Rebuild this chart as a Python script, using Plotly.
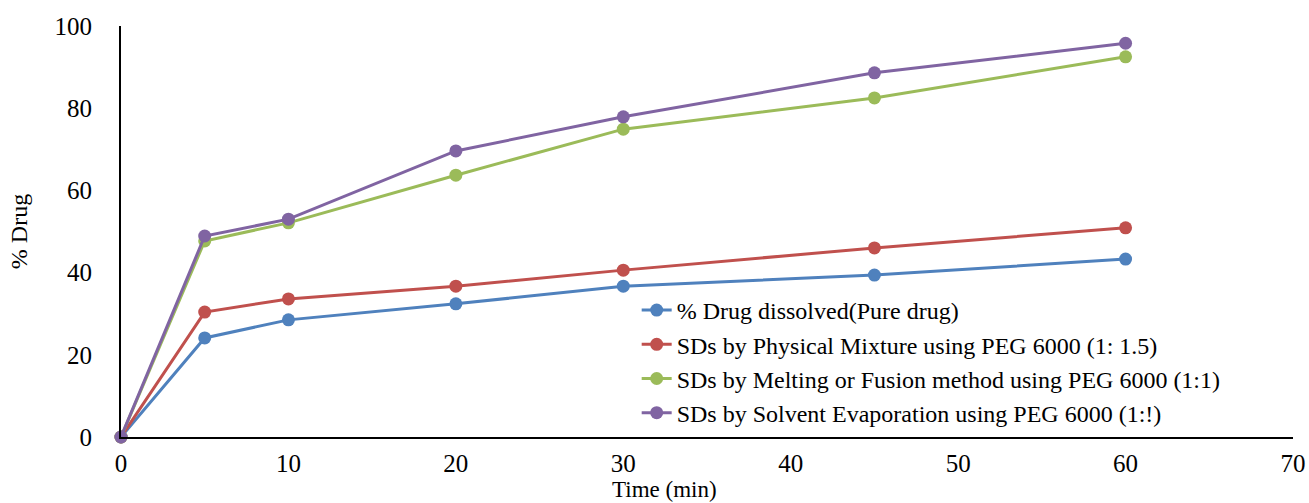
import plotly.graph_objects as go

time_min = [0, 5, 10, 20, 30, 45, 60]
pure_drug = [0, 24.1, 28.5, 32.4, 36.7, 39.4, 43.3]
physical_mixture = [0, 30.4, 33.6, 36.7, 40.6, 46.0, 50.9]
melting_fusion = [0, 47.7, 52.1, 63.7, 74.9, 82.5, 92.5]
solvent_evap = [0, 48.9, 53.0, 69.6, 77.9, 88.6, 95.8]

series = [
    ("% Drug dissolved(Pure drug)", pure_drug, "#4F81BD"),
    ("SDs by Physical Mixture using PEG 6000 (1: 1.5)", physical_mixture, "#C0504D"),
    ("SDs by Melting or Fusion method using PEG 6000 (1:1)", melting_fusion, "#9BBB59"),
    ("SDs by Solvent Evaporation using PEG 6000 (1:!)", solvent_evap, "#8064A2"),
]

fig = go.Figure()
for name, vals, col in series:
    fig.add_trace(go.Scatter(
        x=time_min, y=vals, name=name, mode="lines+markers",
        line=dict(color=col, width=3),
        marker=dict(color=col, size=13),
        cliponaxis=False,
    ))

font = "Liberation Serif"
fig.update_layout(
    width=1309, height=503,
    margin=dict(l=121, r=16, t=26, b=66, autoexpand=False),
    paper_bgcolor="white", plot_bgcolor="white",
    font=dict(family=font, size=25, color="black"),
    showlegend=True,
    legend=dict(x=0.44, y=0.3625, xanchor="left", yanchor="top",
                font=dict(family=font, size=24, color="black"),
                bgcolor="rgba(0,0,0,0)", tracegroupgap=0, itemwidth=30),
    xaxis=dict(range=[0, 70], dtick=10, showgrid=False, zeroline=False,
               showline=True, linecolor="black", linewidth=2,
               ticks="", tickfont=dict(family=font, size=25), ticklabelstandoff=3),
    yaxis=dict(range=[0, 100], dtick=20, showgrid=False, zeroline=False,
               showline=True, linecolor="black", linewidth=2,
               ticks="", tickfont=dict(family=font, size=25), ticklabelstandoff=22,
               title=dict(text="% Drug", font=dict(family=font, size=24), standoff=20)),
    annotations=[dict(text="Time (min)", xref="paper", yref="paper",
                      x=(665 - 121) / 1174, y=0, yshift=-67,
                      xanchor="center", yanchor="bottom", showarrow=False,
                      font=dict(family=font, size=23))],
)

fig.write_html("out.html")
